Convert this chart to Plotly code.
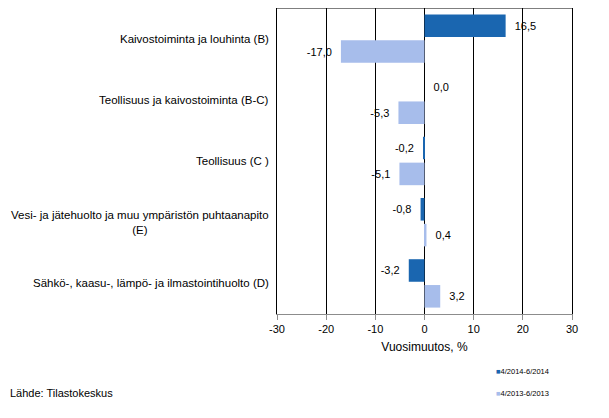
import plotly.graph_objects as go

categories = [
    "Kaivostoiminta ja louhinta (B)",
    "Teollisuus ja kaivostoiminta (B-C)",
    "Teollisuus (C )",
    "Vesi- ja jätehuolto ja muu ympäristön puhtaanapito<br>(E)",
    "Sähkö-, kaasu-, lämpö- ja ilmastointihuolto (D)",
]
series_2014 = [16.5, 0.0, -0.2, -0.8, -3.2]
series_2013 = [-17.0, -5.3, -5.1, 0.4, 3.2]
name_2014 = "4/2014-6/2014"
name_2013 = "4/2013-6/2013"
x_ticks = [-30, -20, -10, 0, 10, 20, 30]
x_ticktext = ["-30", "-20", "-10", "0", "10", "20", "30"]

DARK = "#1a66b0"
LIGHT = "#a7bdeb"
FONT = "Liberation Sans, Arial, sans-serif"
PAD = "\u00a0\u00a0"


def label_templates(vals):
    # a little extra room between bar end and label, like the original
    return [PAD + "%{x:.1f}" if v >= 0 else "%{x:.1f}" + PAD for v in vals]


fig = go.Figure()

for vals, color, name in [(series_2014, DARK, name_2014), (series_2013, LIGHT, name_2013)]:
    fig.add_trace(go.Bar(
        y=categories, x=vals, orientation="h", name=name,
        marker=dict(color=color, line=dict(width=0)),
        texttemplate=label_templates(vals), textposition="outside",
        textfont=dict(size=11, color="black", family=FONT),
        cliponaxis=False, showlegend=False,
    ))

# category labels as annotations (centred multi-line)
for c in categories:
    fig.add_annotation(
        x=-0.022, xref="paper", y=c, yref="y", text=c, showarrow=False,
        xanchor="right", yanchor="middle", align="center",
        font=dict(size=11.5, color="black", family=FONT),
    )

# legend drawn as small text items
for name, color, ypos in [(name_2014, DARK, -0.1895), (name_2013, LIGHT, -0.2614)]:
    fig.add_annotation(
        x=0.735, xref="paper", y=ypos, yref="paper",
        text=f"<span style='color:{color}'>■</span>{name}",
        showarrow=False, xanchor="left", yanchor="middle",
        font=dict(size=7.5, color="black", family=FONT),
    )

fig.add_annotation(
    x=-0.912, xref="paper", y=-0.258, yref="paper", text="Lähde: Tilastokeskus",
    showarrow=False, xanchor="left", yanchor="middle",
    font=dict(size=11, color="black", family=FONT),
)

# top border of plot frame
fig.add_shape(type="line", xref="paper", yref="paper", x0=0, x1=1, y0=1, y1=1,
              line=dict(color="black", width=1))

fig.update_layout(
    width=601, height=410,
    margin=dict(l=269, r=37, t=0, b=104),
    paper_bgcolor="white", plot_bgcolor="white",
    barmode="group", bargap=0.156, bargroupgap=0.127,
    separators=", ",
    font=dict(family=FONT, size=11, color="black"),
    showlegend=False,
    xaxis=dict(
        range=[-30, 30], tickvals=x_ticks, ticktext=x_ticktext,
        showgrid=True, gridcolor="black", gridwidth=1,
        zeroline=True, zerolinecolor="black", zerolinewidth=1,
        showline=True, linecolor="#8c8c8c",
        ticks="outside", ticklen=5, tickcolor="#8c8c8c",
        tickfont=dict(size=11),
        title=dict(text="Vuosimuutos, %", font=dict(size=12), standoff=8),
    ),
    yaxis=dict(
        autorange="reversed", showticklabels=False,
        showgrid=False, showline=True, linecolor="black", mirror=True,
        ticks="",
    ),
)

fig.write_html("out.html")
